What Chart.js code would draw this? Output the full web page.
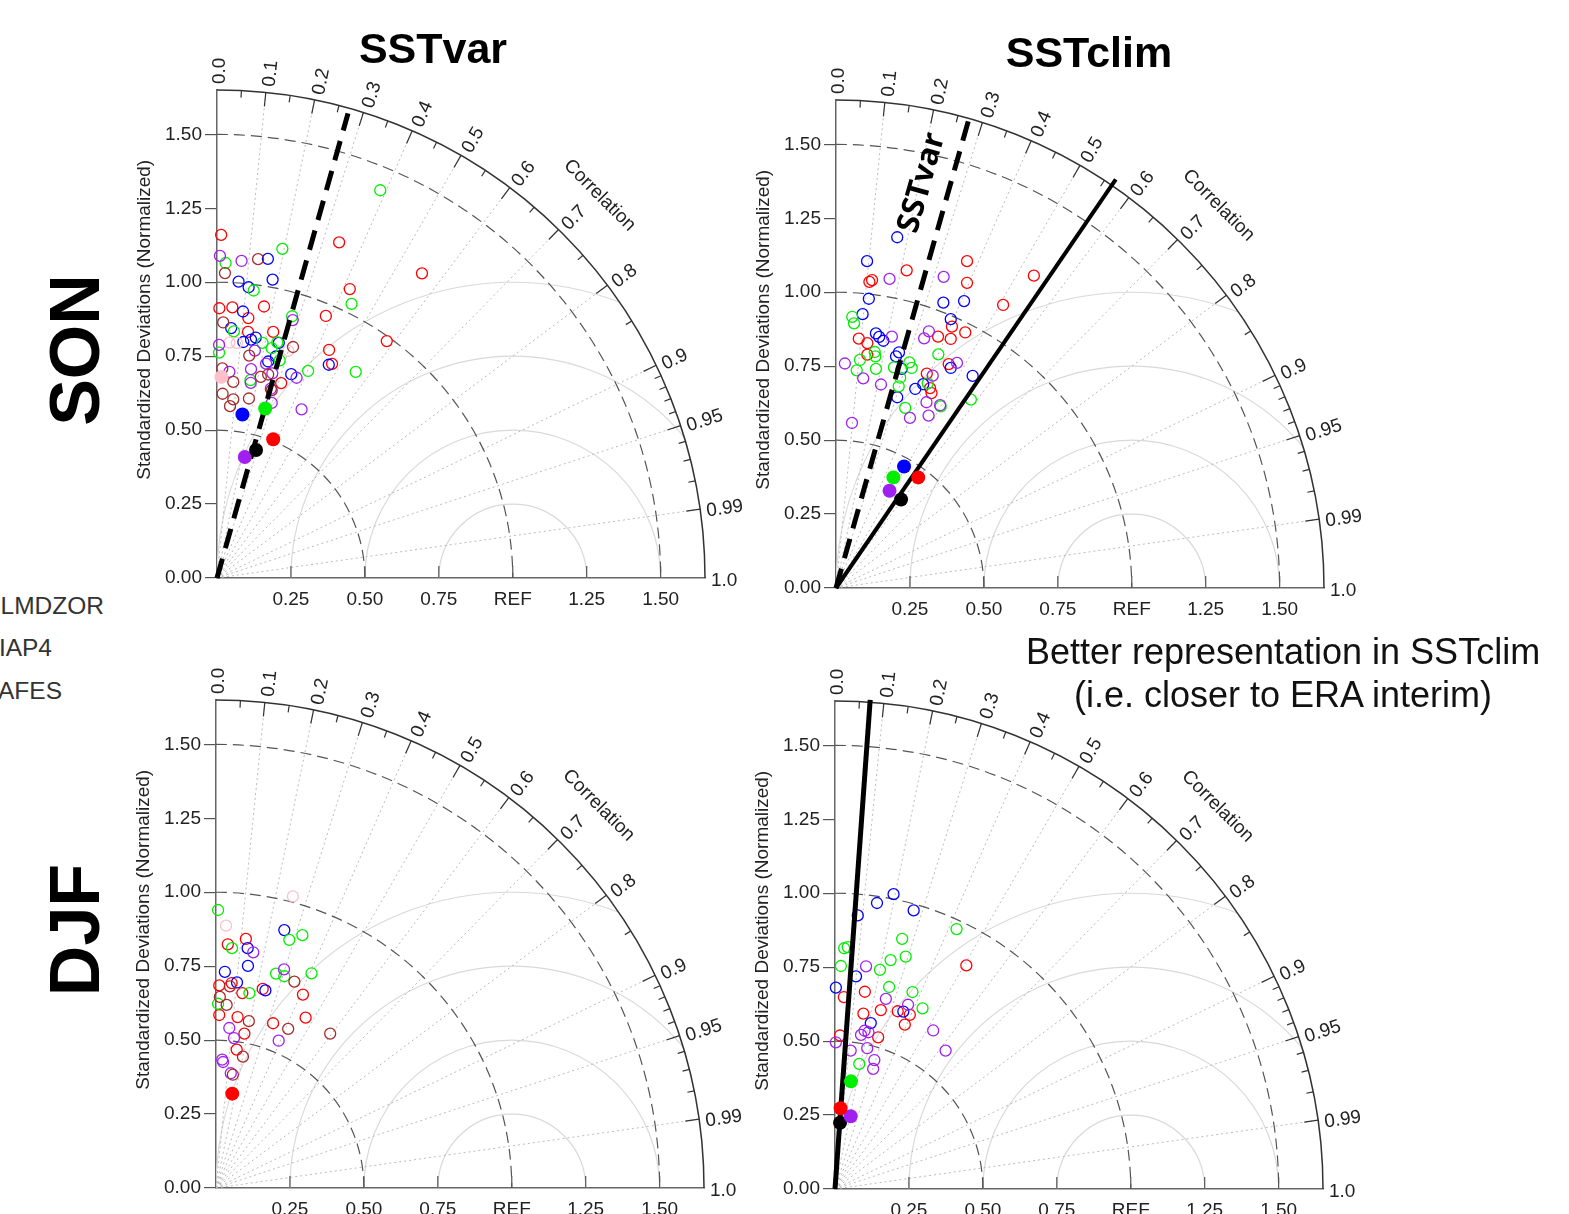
<!DOCTYPE html>
<html>
<head>
<meta charset="utf-8">
<title>Taylor diagrams SSTvar / SSTclim</title>
<script src="https://cdn.jsdelivr.net/npm/chart.js@4.4.1/dist/chart.umd.min.js"></script>
<style>
  body { margin: 0; width: 1569px; height: 1214px; overflow: hidden; background: #fff; position: relative;
         font-family: "Liberation Sans", Arial, Helvetica, sans-serif; }
  canvas { position: absolute; }
  .txt { position: absolute; white-space: nowrap; color: #000; line-height: 1; }
  .title { font-weight: bold; font-size: 43px; transform: translate(-50%, -50%); }
  .season { font-weight: bold; font-size: 70px; transform: translate(-50%, -50%) rotate(-90deg); }
  .model { font-size: 24.5px; color: #333; transform: translate(-100%, -50%); }
  .note { font-size: 36px; color: #111; transform: translate(-50%, -50%); }
</style>
</head>
<body>

<canvas id="sonVar" width="678" height="593" style="left:117px;top:30px"></canvas>
<canvas id="sonClim" width="678" height="593" style="left:736px;top:40px"></canvas>
<canvas id="djfVar" width="678" height="593" style="left:116px;top:640px"></canvas>
<canvas id="djfClim" width="671" height="593" style="left:742px;top:641px;background:#fff"></canvas>

<div class="txt title" style="left:433px;top:48px">SSTvar</div>
<div class="txt title" style="left:1089px;top:52px">SSTclim</div>
<div class="txt season" style="left:75px;top:350px">SON</div>
<div class="txt season" style="left:75px;top:930px">DJF</div>
<div class="txt model" style="left:104px;top:606px">LMDZOR</div>
<div class="txt model" style="left:52px;top:648px">IAP4</div>
<div class="txt model" style="left:62px;top:691px">AFES</div>
<div class="txt note" style="left:1283px;top:652px">Better representation in SSTclim</div>
<div class="txt note" style="left:1283px;top:695px">(i.e. closer to ERA interim)</div>

<script>
// axes of the Taylor diagram
const RMAX = 1.65;
const sdTicks = [0, 0.25, 0.5, 0.75, 1, 1.25, 1.5];
const sdXTicks = [0.25, 0.5, 0.75, 1, 1.25, 1.5];
const corMajor = [0.1, 0.2, 0.3, 0.4, 0.5, 0.6, 0.7, 0.8, 0.9, 0.95, 0.99];
const corMinor = [0.05, 0.15, 0.25, 0.35, 0.45, 0.55, 0.65, 0.75, 0.85, 0.91, 0.92, 0.93, 0.94, 0.96, 0.97, 0.98];
const corLabels = [0, 0.1, 0.2, 0.3, 0.4, 0.5, 0.6, 0.7, 0.8, 0.9, 0.95, 0.99, 1];
const refArcs = [0.25, 0.5, 0.75, 1];
const sdArcs = [0.5, 1, 1.5];

// SON, SSTvar  (x = sd*cor, y = sd*sin(acos(cor)), normalized)
const sonVarRed = [[0.014,1.160],[0.413,1.135],[0.449,0.977],[0.008,0.912],[0.052,0.915],[0.159,0.918],[0.106,0.879],[0.105,0.832],[0.190,0.832],[0.368,0.886],[0.574,0.801],[0.379,0.771],[0.389,0.724],[0.217,0.659],[0.693,1.030]];
const sonVarBlue = [[0.172,1.079],[0.073,1.002],[0.107,0.983],[0.188,1.009],[0.088,0.901],[0.048,0.845],[0.089,0.798],[0.115,0.806],[0.131,0.813],[0.209,0.795],[0.173,0.732],[0.199,0.749],[0.251,0.689],[0.378,0.721]];
const sonVarGreen = [[0.029,1.065],[0.221,1.113],[0.124,0.972],[0.455,0.927],[0.057,0.834],[0.254,0.885],[0.154,0.795],[0.185,0.777],[0.204,0.797],[0.469,0.697],[0.007,0.762],[0.212,0.736],[0.113,0.669],[0.308,0.700],[0.552,1.311]];
const sonVarPurple = [[0.010,1.089],[0.083,1.072],[0.256,0.872],[0.007,0.788],[0.128,0.769],[0.166,0.725],[0.115,0.706],[0.042,0.697],[0.114,0.660],[0.187,0.692],[0.269,0.677],[0.182,0.640],[0.185,0.592],[0.286,0.570]];
const sonVarBrown = [[0.139,1.078],[0.027,1.031],[0.021,0.864],[0.109,0.752],[0.018,0.709],[0.257,0.781],[0.055,0.663],[0.148,0.680],[0.173,0.688],[0.019,0.623],[0.055,0.604],[0.108,0.607],[0.044,0.581],[0.185,0.635]];
const sonVarPink = [[0.042,0.796],[0.067,0.795],[0.241,0.768]];
const sonVarMeanKeys = ['pink', 'blue', 'green', 'red', 'black', 'purple'];
const sonVarMeans = [[0.015,0.680],[0.086,0.553],[0.163,0.573],[0.190,0.469],[0.132,0.433],[0.094,0.409]];
const sonVarLine = [[0,0],[0.443,1.571]];

// SON, SSTclim
const sonClimRed = [[0.443,1.105],[0.239,1.074],[0.113,1.035],[0.122,1.041],[0.443,1.032],[0.565,0.957],[0.669,1.056],[0.392,0.884],[0.437,0.864],[0.345,0.850],[0.388,0.842],[0.077,0.843],[0.106,0.828],[0.106,0.789],[0.381,0.757],[0.307,0.725],[0.318,0.676],[0.323,0.659]];
const sonClimBlue = [[0.207,1.186],[0.105,1.105],[0.111,0.978],[0.090,0.926],[0.135,0.861],[0.146,0.849],[0.160,0.836],[0.363,0.965],[0.433,0.970],[0.388,0.909],[0.213,0.797],[0.203,0.783],[0.222,0.741],[0.388,0.744],[0.462,0.717],[0.268,0.673],[0.295,0.689],[0.207,0.645]];
const sonClimGreen = [[0.055,0.917],[0.061,0.895],[0.131,0.798],[0.133,0.783],[0.081,0.771],[0.070,0.736],[0.135,0.741],[0.196,0.746],[0.248,0.763],[0.256,0.744],[0.217,0.711],[0.212,0.682],[0.346,0.790],[0.310,0.692],[0.354,0.614],[0.234,0.609],[0.456,0.637]];
const sonClimPurple = [[0.181,1.045],[0.364,1.052],[0.314,0.868],[0.298,0.844],[0.189,0.850],[0.409,0.761],[0.030,0.759],[0.092,0.709],[0.152,0.688],[0.327,0.718],[0.306,0.628],[0.250,0.575],[0.313,0.583],[0.352,0.618],[0.054,0.558]];
const sonClimMeanKeys = ['blue', 'green', 'red', 'purple', 'black'];
const sonClimMeans = [[0.230,0.411],[0.194,0.374],[0.278,0.374],[0.181,0.329],[0.220,0.299]];
const sonClimVarLine = [[0,0],[0.448,1.581]];
const sonClimLine = [[0,0],[0.946,1.382]];

// DJF, SSTvar
const djfVarRed = [[0.040,0.824],[0.101,0.842],[0.011,0.685],[0.053,0.693],[0.089,0.659],[0.158,0.673],[0.294,0.654],[0.011,0.585],[0.073,0.578],[0.303,0.576],[0.193,0.557],[0.096,0.522],[0.070,0.468]];
const djfVarBlue = [[0.231,0.872],[0.107,0.811],[0.108,0.751],[0.030,0.731],[0.071,0.695],[0.167,0.668]];
const djfVarGreen = [[0.007,0.940],[0.054,0.811],[0.248,0.839],[0.292,0.855],[0.203,0.725],[0.231,0.716],[0.323,0.726],[0.113,0.659],[0.007,0.623]];
const djfVarPurple = [[0.126,0.797],[0.230,0.739],[0.045,0.541],[0.061,0.507],[0.212,0.498],[0.021,0.434],[0.024,0.426],[0.050,0.388]];
const djfVarBrown = [[0.265,0.698],[0.047,0.682],[0.013,0.646],[0.036,0.619],[0.111,0.564],[0.244,0.538],[0.386,0.522],[0.091,0.444],[0.057,0.383]];
const djfVarPink = [[0.260,0.986],[0.034,0.887]];
const djfVarMeanKeys = ['red'];
const djfVarMeans = [[0.055,0.319]];

// DJF, SSTclim
const djfClimRed = [[0.444,0.756],[0.030,0.649],[0.101,0.667],[0.155,0.605],[0.096,0.593],[0.212,0.601],[0.253,0.589],[0.236,0.556],[0.146,0.513],[0.017,0.519]];
const djfClimBlue = [[0.198,0.997],[0.142,0.967],[0.266,0.942],[0.077,0.925],[0.071,0.719],[0.003,0.681],[0.121,0.561],[0.231,0.600]];
const djfClimGreen = [[0.411,0.879],[0.227,0.846],[0.239,0.786],[0.188,0.774],[0.152,0.741],[0.031,0.814],[0.043,0.818],[0.020,0.754],[0.183,0.683],[0.262,0.666],[0.296,0.611],[0.082,0.423]];
const djfClimPurple = [[0.105,0.753],[0.172,0.643],[0.247,0.623],[0.332,0.536],[0.113,0.530],[0.100,0.535],[0.088,0.521],[0.003,0.496],[0.053,0.468],[0.109,0.476],[0.374,0.468],[0.133,0.436],[0.129,0.406]];
const djfClimMeanKeys = ['green', 'red', 'purple', 'black'];
const djfClimMeans = [[0.054,0.364],[0.019,0.273],[0.053,0.246],[0.017,0.224]];
const djfClimLine = [[0,0],[0.119,1.654]];

const colors = { red: '#ff0000', blue: '#0000ff', green: '#00ee00', purple: '#a020f0', brown: '#a52a2a', pink: '#ffc0cb', black: '#000000' };
const FONT = "'Liberation Sans', Arial, Helvetica, sans-serif";
Chart.defaults.font.family = FONT;
Chart.defaults.color = '#222';

const toXY = arr => arr.map(p => ({ x: p[0], y: p[1] }));

// draws the polar frame of the Taylor diagram behind the points
const taylorGrid = {
  id: 'taylorGrid',
  beforeDatasetsDraw(chart) {
    const { ctx, scales: { x, y } } = chart;
    const ox = x.getPixelForValue(0), oy = y.getPixelForValue(0);
    const u = x.getPixelForValue(1) - ox;
    const R = RMAX * u;

    ctx.save();
    ctx.beginPath();
    ctx.moveTo(ox, oy);
    ctx.arc(ox, oy, R, -Math.PI / 2, 0);
    ctx.closePath();
    ctx.clip();

    // centred RMS arcs around REF
    ctx.strokeStyle = '#d9d9d9';
    ctx.lineWidth = 1.2;
    refArcs.forEach(r => {
      ctx.beginPath();
      ctx.arc(x.getPixelForValue(1), oy, r * u, Math.PI, 2 * Math.PI);
      ctx.stroke();
    });

    // correlation rays
    ctx.setLineDash([2, 3]);
    ctx.strokeStyle = '#bbbbbb';
    ctx.lineWidth = 1;
    corMajor.forEach(c => {
      const a = Math.acos(c);
      ctx.beginPath();
      ctx.moveTo(ox, oy);
      ctx.lineTo(x.getPixelForValue(RMAX * Math.cos(a)), y.getPixelForValue(RMAX * Math.sin(a)));
      ctx.stroke();
    });

    // standard deviation arcs
    ctx.setLineDash([11, 6]);
    ctx.strokeStyle = '#555';
    ctx.lineWidth = 1.2;
    sdArcs.forEach(r => {
      ctx.beginPath();
      ctx.arc(ox, oy, r * u, -Math.PI / 2, 0);
      ctx.stroke();
    });
    ctx.restore();

    // outer arc + correlation ticks
    ctx.save();
    ctx.strokeStyle = '#333';
    ctx.lineWidth = 1.5;
    ctx.beginPath();
    ctx.arc(ox, oy, R, -Math.PI / 2, 0);
    ctx.stroke();
    ctx.lineWidth = 1.2;
    const tick = (c, len) => {
      const a = Math.acos(c);
      ctx.beginPath();
      ctx.moveTo(ox + R * Math.cos(a), oy - R * Math.sin(a));
      ctx.lineTo(ox + (R - len) * Math.cos(a), oy - (R - len) * Math.sin(a));
      ctx.stroke();
    };
    corMajor.forEach(c => tick(c, 14));
    corMinor.forEach(c => tick(c, 7));

    // inward ticks on the x axis
    ctx.strokeStyle = '#555';
    sdXTicks.forEach(v => {
      const px = x.getPixelForValue(v);
      ctx.beginPath();
      ctx.moveTo(px, oy);
      ctx.lineTo(px, oy - 12);
      ctx.stroke();
    });

    // correlation labels
    ctx.fillStyle = '#222';
    ctx.font = '19px ' + FONT;
    ctx.textAlign = 'left';
    ctx.textBaseline = 'middle';
    corLabels.forEach(c => {
      const a = Math.acos(c);
      const r = R + 6;
      ctx.save();
      ctx.translate(ox + r * Math.cos(a), oy - r * Math.sin(a));
      ctx.rotate(-a);
      ctx.fillText(c === 0 ? '0.0' : c === 1 ? '1.0' : String(c), 0, 3);
      ctx.restore();
    });

    // "Correlation" caption
    const ca = Math.PI / 4, cr = R + 53;
    ctx.save();
    ctx.translate(ox + cr * Math.cos(ca), oy - cr * Math.sin(ca));
    ctx.rotate(Math.PI / 2 - ca);
    ctx.textAlign = 'center';
    ctx.fillText('Correlation', 0, 0);
    ctx.restore();

    // y axis caption
    ctx.save();
    ctx.translate(ox - 72, y.getPixelForValue(0.873));
    ctx.rotate(-Math.PI / 2);
    ctx.textAlign = 'center';
    ctx.fillText('Standardized Deviations (Normalized)', 0, 0);
    ctx.restore();
    ctx.restore();
  },
  afterDatasetsDraw(chart, args, opts) {
    if (!opts || !opts.text) return;
    const { ctx, scales: { x, y } } = chart;
    const ang = Math.atan2(
      y.getPixelForValue(opts.along[1]) - y.getPixelForValue(0),
      x.getPixelForValue(opts.along[0]) - x.getPixelForValue(0));
    ctx.save();
    ctx.translate(x.getPixelForValue(opts.at[0]), y.getPixelForValue(opts.at[1]));
    ctx.rotate(ang);
    ctx.font = "bold 31px 'Open Sans', " + FONT;
    ctx.fillStyle = '#000';
    ctx.textAlign = 'center';
    ctx.textBaseline = 'middle';
    ctx.fillText(opts.text, 0, 0);
    ctx.restore();
  }
};

function makePanel(id, axisW, open, meanKeys, means, lines, label) {
  const datasets = [];
  means.forEach((p, i) => {
    datasets.push({
      data: toXY([p]), pointRadius: 7, pointBorderWidth: 0,
      pointBackgroundColor: colors[meanKeys[i]], pointBorderColor: colors[meanKeys[i]], clip: false
    });
  });
  lines.forEach(l => {
    datasets.push({
      data: toXY(l.pts), showLine: true, pointRadius: 0, borderColor: '#000',
      borderWidth: l.width, borderDash: l.dash, borderCapStyle: 'butt', clip: false
    });
  });
  open.forEach(([key, arr]) => {
    datasets.push({
      data: toXY(arr), pointRadius: 5.5, pointBorderWidth: 1.3,
      pointBorderColor: colors[key], pointBackgroundColor: 'rgba(0,0,0,0)', clip: false
    });
  });

  return new Chart(document.getElementById(id), {
    type: 'scatter',
    data: { datasets },
    options: {
      responsive: false,
      animation: false,
      devicePixelRatio: 1,
      layout: { padding: { left: 0, top: 60, right: 90, bottom: 0 } },
      plugins: { legend: { display: false }, tooltip: { enabled: false }, taylorGrid: label || {} },
      scales: {
        x: {
          type: 'linear', min: 0, max: RMAX,
          afterFit: s => { s.height = 45; },
          afterBuildTicks: s => { s.ticks = sdXTicks.map(v => ({ value: v })); },
          ticks: { callback: v => (v === 1 ? 'REF' : v.toFixed(2)), autoSkip: false, maxRotation: 0,
                   padding: 10, font: { size: 19 }, color: '#222' },
          grid: { drawOnChartArea: false, drawTicks: false },
          border: { color: '#666', width: 1.5 }
        },
        y: {
          type: 'linear', min: 0, max: RMAX,
          afterFit: s => { s.width = axisW; },
          afterBuildTicks: s => { s.ticks = sdTicks.map(v => ({ value: v })); },
          ticks: { callback: v => v.toFixed(2), padding: 3, font: { size: 19 }, color: '#222' },
          grid: { drawOnChartArea: false, drawTicks: true, tickLength: 12, color: '#555', lineWidth: 1.2 },
          border: { color: '#666', width: 1.5 }
        }
      }
    },
    plugins: [taylorGrid]
  });
}

const refDash = { dash: [20, 11], width: 5 };

makePanel('sonVar', 100,
  [['brown', sonVarBrown], ['purple', sonVarPurple], ['pink', sonVarPink], ['green', sonVarGreen], ['blue', sonVarBlue], ['red', sonVarRed]],
  sonVarMeanKeys, sonVarMeans,
  [{ pts: sonVarLine, ...refDash }]);

makePanel('sonClim', 100,
  [['purple', sonClimPurple], ['green', sonClimGreen], ['blue', sonClimBlue], ['red', sonClimRed]],
  sonClimMeanKeys, sonClimMeans,
  [{ pts: sonClimVarLine, ...refDash }, { pts: sonClimLine, dash: [], width: 4 }],
  { text: 'SSTvar', at: [0.291, 1.37], along: sonClimVarLine[1] });

makePanel('djfVar', 100,
  [['brown', djfVarBrown], ['purple', djfVarPurple], ['pink', djfVarPink], ['green', djfVarGreen], ['blue', djfVarBlue], ['red', djfVarRed]],
  djfVarMeanKeys, djfVarMeans, []);

makePanel('djfClim', 93,
  [['purple', djfClimPurple], ['green', djfClimGreen], ['blue', djfClimBlue], ['red', djfClimRed]],
  djfClimMeanKeys, djfClimMeans,
  [{ pts: djfClimLine, dash: [], width: 5 }]);
</script>
</body>
</html>
